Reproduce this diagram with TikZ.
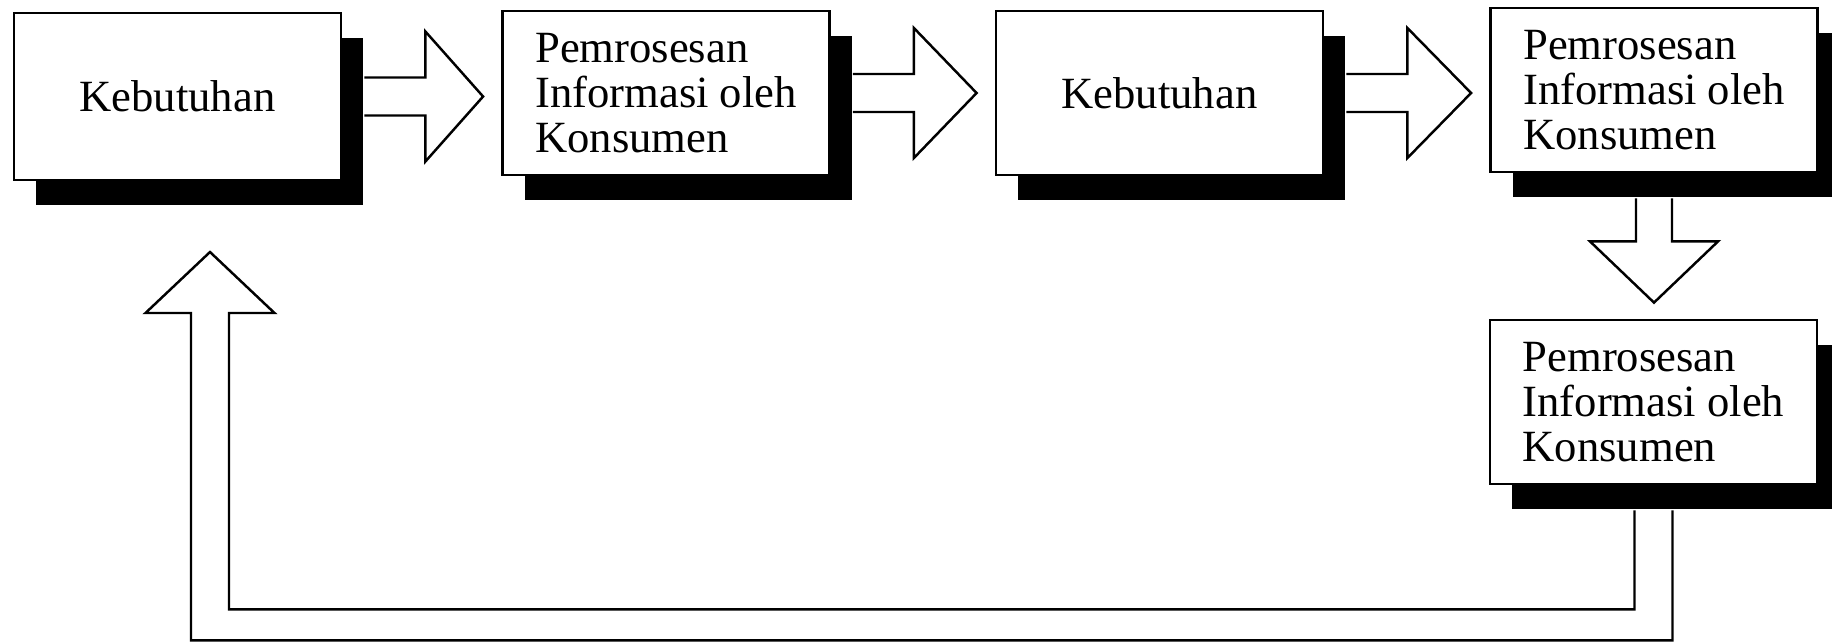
\documentclass[tikz,border=0pt]{standalone}
\usepackage{fontspec}
\setmainfont{Liberation Serif}
\usetikzlibrary{calc,shadows}
\begin{document}
\begin{tikzpicture}[
  box/.style={draw,line width=0.8pt,fill=white,minimum width=3.27cm,minimum height=1.64cm,align=left,inner sep=0pt,font=\fontsize{12.7}{12.8}\selectfont,drop shadow={shadow xshift=0.22cm,shadow yshift=-0.25cm,fill=black,opacity=1}},
  blockline/.style={line width=0.7pt,line join=miter}]
\useasboundingbox (0,0) rectangle (18.32,-6.43);
\node[box,minimum height=1.67cm] (keb1) at (1.775,-0.965) {Kebutuhan};
\node[box] (pro1) at (6.66,-0.93) {Pemrosesan\\Informasi oleh\\Konsumen};
\node[box] (keb2) at (11.595,-0.93) {Kebutuhan};
\node[box] (pro2) at (16.54,-0.90) {Pemrosesan\\Informasi oleh\\Konsumen};
\node[box] (pro3) at (16.535,-4.02) {Pemrosesan\\Informasi oleh\\Konsumen};
\coordinate (ret) at (2.10,-2.52);
\foreach \a/\b in {keb1/pro1,pro1/keb2,keb2/pro2} { \draw[blockline] ($(\a.east)+(0.22,0.19)$) -- ++(0.61,0) -- ++(0,0.46) -- ($(\b.west |- \a.east)+(-0.18,0)$) -- ($(\a.east)+(0.83,-0.65)$) -- ++(0,0.46) -- ++(-0.61,0); }
\draw[blockline] ($(pro2.south)+(-0.18,-0.25)$) -- ++(0,-0.43) -- ++(-0.46,0) -- ($(pro2.south |- pro3.north)+(0,0.16)$) -- ($(pro2.south)+(0.64,-0.68)$) -- ++(-0.46,0) -- ++(0,0.43);
\draw[blockline] ($(pro3.south)+(-0.19,-0.25)$) -- ++(0,-0.99) -| ($(ret)+(0.19,-0.61)$) -- ++(0.455,0) -- (ret) -- ($(ret)+(-0.645,-0.61)$) -- ++(0.455,0) |- ($(pro3.south)+(0.19,-1.55)$) -- ++(0,1.30);
\end{tikzpicture}
\end{document}
